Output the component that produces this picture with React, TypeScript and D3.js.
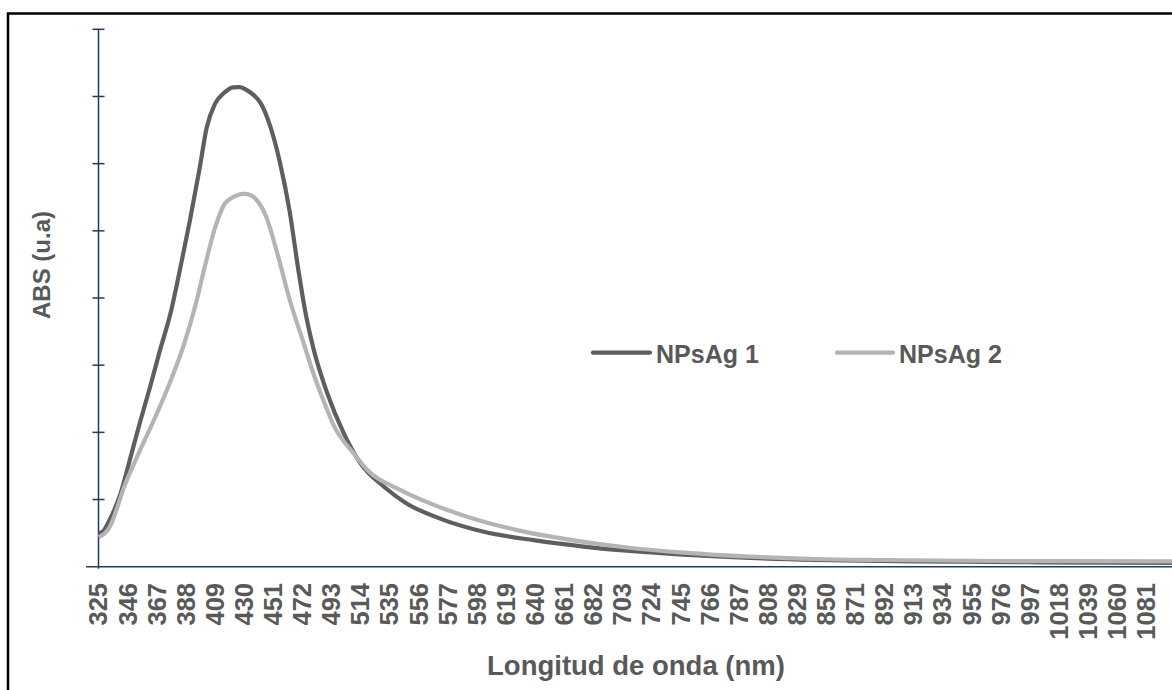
import React from "react";
import * as d3 from "d3";

const wavelength1 = [325, 328, 333, 341, 348, 355, 362, 369, 377, 384, 391, 398, 403, 409, 416, 422, 427, 432, 437, 442, 449, 456, 463, 469, 474, 480, 490, 502, 514, 531, 547, 571, 603, 639, 675, 711, 747, 795, 843, 890, 950, 1004, 1050, 1100];
const abs1 = [0.100, 0.104, 0.139, 0.219, 0.324, 0.431, 0.532, 0.639, 0.755, 0.889, 1.032, 1.187, 1.306, 1.378, 1.412, 1.427, 1.428, 1.419, 1.404, 1.380, 1.310, 1.202, 1.056, 0.889, 0.764, 0.651, 0.517, 0.397, 0.308, 0.238, 0.189, 0.144, 0.104, 0.079, 0.060, 0.046, 0.036, 0.026, 0.020, 0.017, 0.015, 0.013, 0.012, 0.011];

const wavelength2 = [325, 327, 333, 344, 355, 366, 377, 387, 395, 402, 409, 416, 420, 425, 430, 435, 439, 446, 454, 463, 473, 480, 490, 494, 509, 519, 543, 567, 591, 627, 675, 711, 747, 795, 843, 889, 976, 1100];
const abs2 = [0.089, 0.092, 0.118, 0.243, 0.347, 0.446, 0.553, 0.666, 0.779, 0.898, 1.008, 1.080, 1.095, 1.106, 1.110, 1.106, 1.092, 1.042, 0.933, 0.794, 0.666, 0.576, 0.467, 0.427, 0.338, 0.288, 0.228, 0.184, 0.149, 0.109, 0.074, 0.055, 0.042, 0.030, 0.023, 0.020, 0.017, 0.016];

const xTickLabels = d3.range(325, 1082, 21);
const yTicks = d3.range(0, 1.61, 0.2);
const seriesNames = ["NPsAg 1", "NPsAg 2"];
const seriesColors = ["#5e5e5e", "#b4b4b4"];

export default function App() {
  const W = 1172, H = 690;
  const x = d3.scaleLinear().domain([325, 1100]).range([98.5, 1172.6]);
  const y = d3.scaleLinear().domain([0, 1.6]).range([566.7, 29.3]);
  const line = d3.line<[number, number]>().x(d => x(d[0])).y(d => y(d[1])).curve(d3.curveMonotoneX);
  const s1 = wavelength1.map((w, i) => [w, abs1[i]] as [number, number]);
  const s2 = wavelength2.map((w, i) => [w, abs2[i]] as [number, number]);
  const axisColor = "#22395a";
  const textColor = "#595959";
  const font = "'Liberation Sans', Arial, sans-serif";
  const legend = [
    { name: seriesNames[0], color: seriesColors[0], x1: 593, x2: 650, tx: 656 },
    { name: seriesNames[1], color: seriesColors[1], x1: 837, x2: 893, tx: 899 },
  ];
  return (
    <svg width={W} height={H} style={{ position: "absolute", left: 0, top: 0, display: "block", background: "#fff" }} fontFamily={font}>
      <rect x={0} y={0} width={W} height={H} fill="#fff" />
      <rect x={8} y={13.5} width={1300} height={800} fill="none" stroke="#000" strokeWidth={2.5} />
      <line x1={x(325)} x2={x(325)} y1={y(1.6)} y2={y(0) + 2} stroke={axisColor} strokeWidth={1.5} />
      {yTicks.slice(1).map((t, i) => (
        <line key={i} x1={x(325) - 6} x2={x(325) + 6} y1={y(t)} y2={y(t)} stroke={axisColor} strokeWidth={1.5} />
      ))}
      <line x1={86} x2={W} y1={y(0)} y2={y(0)} stroke={axisColor} strokeWidth={1.5} />
      {xTickLabels.map(t => (
        <text key={t} transform={`translate(${x(t)},583) rotate(-90)`} textAnchor="end" dy="0.35em" fontSize={25.5} fontWeight="bold" fill={textColor}>{t}</text>
      ))}
      <path d={line(s1) || ""} fill="none" stroke={seriesColors[0]} strokeWidth={4.2} strokeLinejoin="round" />
      <path d={line(s2) || ""} fill="none" stroke={seriesColors[1]} strokeWidth={4.2} strokeLinejoin="round" />
      {legend.map(l => (
        <g key={l.name}>
          <line x1={l.x1} x2={l.x2} y1={352.7} y2={352.7} stroke={l.color} strokeWidth={4.2} strokeLinecap="round" />
          <text x={l.tx} y={362.5} fontSize={25} fontWeight="bold" fill={textColor}>{l.name}</text>
        </g>
      ))}
      <text x={636} y={675} textAnchor="middle" fontSize={27.5} fontWeight="bold" fill={textColor}>Longitud de onda (nm)</text>
      <text transform={`translate(50,265) rotate(-90)`} textAnchor="middle" fontSize={24} fontWeight="bold" fill={textColor}>ABS (u.a)</text>
    </svg>
  );
}
